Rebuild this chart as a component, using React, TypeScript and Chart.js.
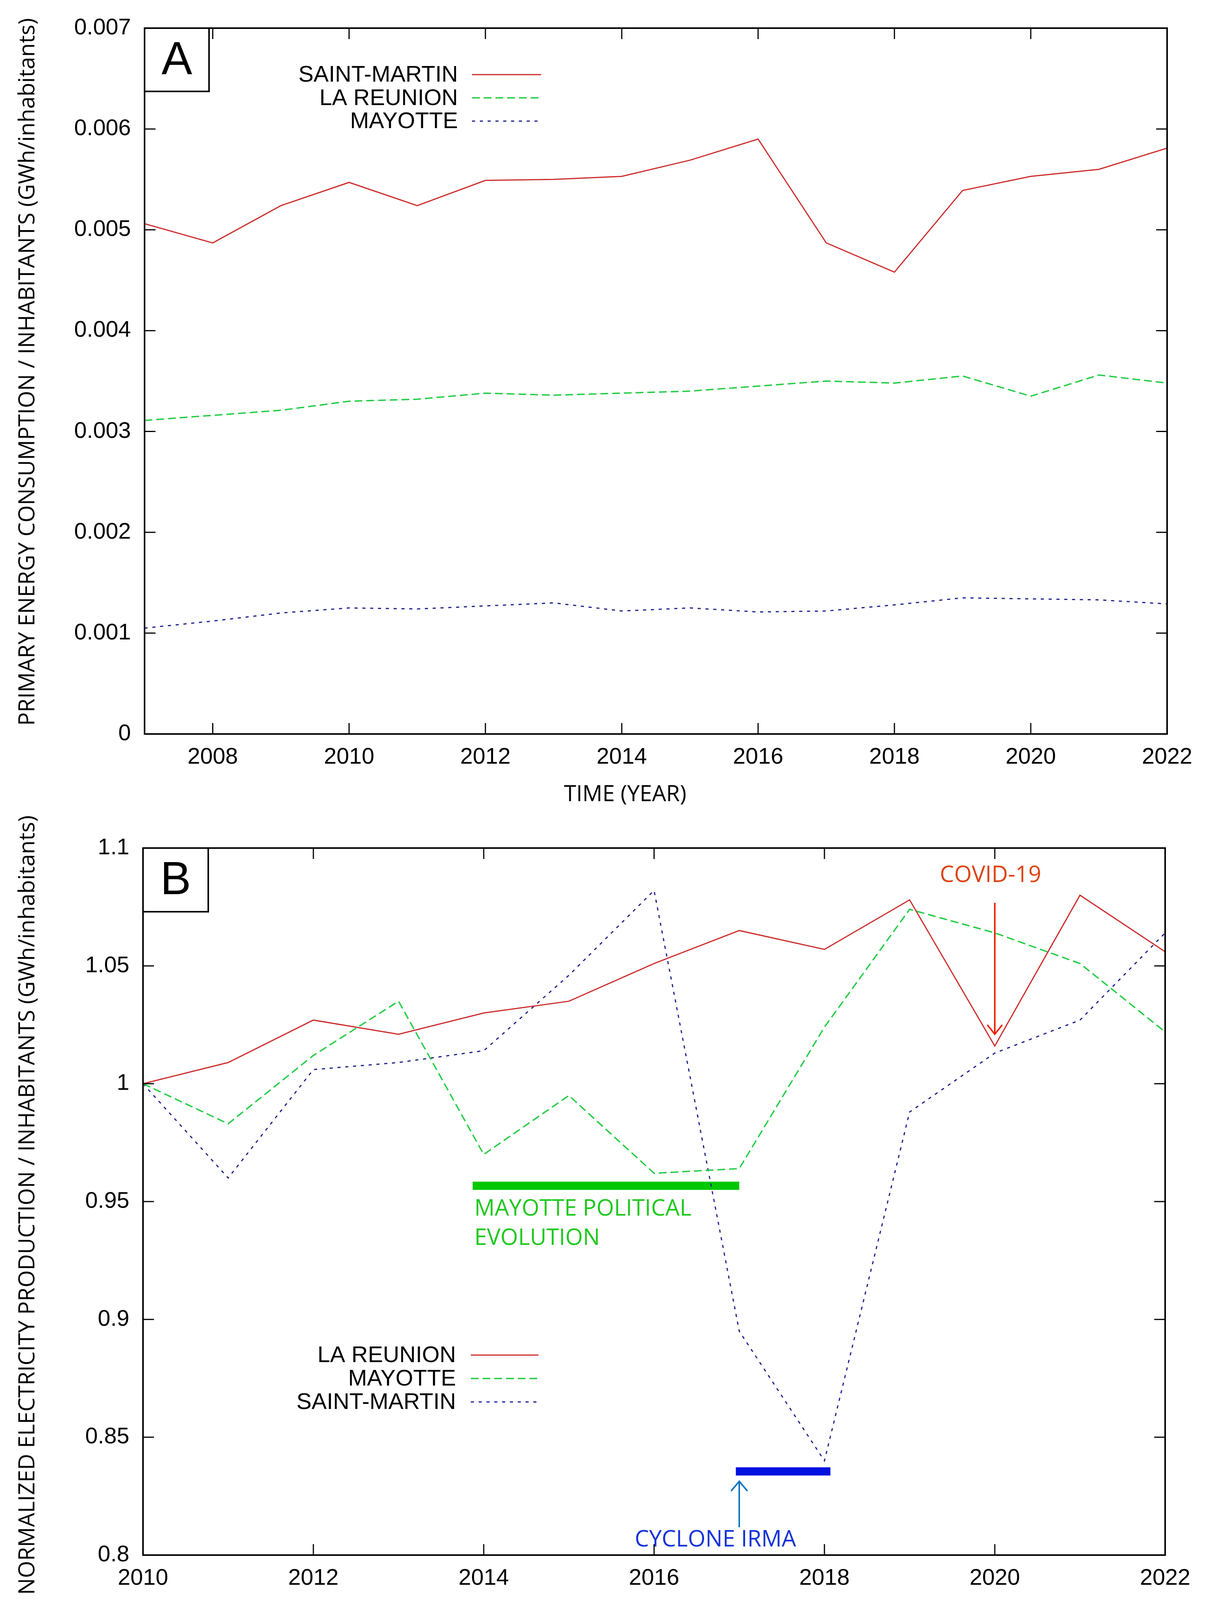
import React, { useEffect, useRef } from "react";
import { Chart, registerables } from "chart.js";

Chart.register(...registerables);

// ---------------- Panel A data ----------------
const yearsA = [2007, 2008, 2009, 2010, 2011, 2012, 2013, 2014, 2015, 2016, 2017, 2018, 2019, 2020, 2021, 2022];
const saintMartinA = [0.00506, 0.00487, 0.00524, 0.00547, 0.00524, 0.00549, 0.0055, 0.00553, 0.00569, 0.0059, 0.00487, 0.00458, 0.00539, 0.00553, 0.0056, 0.00581];
const laReunionA = [0.00311, 0.00316, 0.00321, 0.0033, 0.00332, 0.00338, 0.00336, 0.00338, 0.0034, 0.00345, 0.0035, 0.00348, 0.00355, 0.00335, 0.00356, 0.00348];
const mayotteA = [0.00105, 0.00112, 0.0012, 0.00125, 0.00124, 0.00127, 0.0013, 0.00122, 0.00125, 0.00121, 0.00122, 0.00128, 0.00135, 0.00134, 0.00133, 0.00129];
const xTicksA = [2008, 2010, 2012, 2014, 2016, 2018, 2020, 2022];
const yTicksA = [0, 0.001, 0.002, 0.003, 0.004, 0.005, 0.006, 0.007];
const yTickLabelsA = ["0", "0.001", "0.002", "0.003", "0.004", "0.005", "0.006", "0.007"];

// ---------------- Panel B data ----------------
const yearsB = [2010, 2011, 2012, 2013, 2014, 2015, 2016, 2017, 2018, 2019, 2020, 2021, 2022];
const laReunionB = [1.0, 1.009, 1.027, 1.021, 1.03, 1.035, 1.051, 1.065, 1.057, 1.078, 1.016, 1.08, 1.056];
const mayotteB = [1.0, 0.983, 1.012, 1.035, 0.97, 0.995, 0.962, 0.964, 1.024, 1.074, 1.064, 1.051, 1.022];
const saintMartinB = [1.0, 0.96, 1.006, 1.009, 1.014, 1.046, 1.082, 0.895, 0.84, 0.988, 1.013, 1.027, 1.064];
const xTicksB = [2010, 2012, 2014, 2016, 2018, 2020, 2022];
const yTicksB = [0.8, 0.85, 0.9, 0.95, 1.0, 1.05, 1.1];
const yTickLabelsB = ["0.8", "0.85", "0.9", "0.95", "1", "1.05", "1.1"];

// ---------------- styles ----------------
const RED = "#cc2a2a";
const GREEN = "#22cc44";
const NAVY = "#1c1c8a";
const FONT_SANS = "'Liberation Sans', Arial, Helvetica, sans-serif";
const FONT_TITLE = "'Open Sans', 'Noto Sans', sans-serif";

const W = 3084;
const PAGE_H = 4234;
const TOP_A = 0;
const H_A = 2117;
const TOP_B = 1900;
const H_B = PAGE_H - TOP_B;

// ---------------- plugins ----------------
const framePlugin = {
  id: "frame",
  afterDatasetsDraw(chart: any, _a: any, o: any) {
    const { ctx, chartArea: a, scales } = chart;
    const L = o.tickLen;
    ctx.save();
    ctx.strokeStyle = "#000";
    ctx.lineWidth = o.tickWidth;
    ctx.beginPath();
    for (const t of scales.x.ticks) {
      const px = scales.x.getPixelForValue(t.value);
      ctx.moveTo(px, a.bottom);
      ctx.lineTo(px, a.bottom - L);
      ctx.moveTo(px, a.top);
      ctx.lineTo(px, a.top + L);
    }
    for (const t of scales.y.ticks) {
      const py = scales.y.getPixelForValue(t.value);
      ctx.moveTo(a.left, py);
      ctx.lineTo(a.left + L, py);
      ctx.moveTo(a.right, py);
      ctx.lineTo(a.right - L, py);
    }
    ctx.stroke();
    ctx.lineWidth = o.borderWidth;
    ctx.strokeRect(a.left, a.top, a.right - a.left, a.bottom - a.top);
    ctx.restore();
  },
};

const panelLabelPlugin = {
  id: "panelLabel",
  afterDraw(chart: any, _a: any, o: any) {
    const { ctx, chartArea: a } = chart;
    ctx.save();
    ctx.fillStyle = "#fff";
    ctx.fillRect(a.left, a.top, o.w, o.h);
    ctx.strokeStyle = "#000";
    ctx.lineWidth = 4;
    ctx.strokeRect(a.left, a.top, o.w, o.h);
    ctx.fillStyle = "#000";
    ctx.font = `${o.size}px ${FONT_SANS}`;
    ctx.textAlign = "center";
    ctx.textBaseline = "middle";
    ctx.fillText(o.text, a.left + o.w / 2, a.top + o.h / 2 + 4);
    ctx.restore();
  },
};

const legendPlugin = {
  id: "sideLegend",
  afterDraw(chart: any, _a: any, o: any) {
    const { ctx, chartArea: a } = chart;
    ctx.save();
    ctx.font = `${o.size}px ${FONT_SANS}`;
    ctx.textAlign = "right";
    ctx.textBaseline = "middle";
    chart.data.datasets.forEach((ds: any, i: number) => {
      const y = a.top + o.rowTop + i * o.rowGap;
      ctx.fillStyle = "#000";
      ctx.fillText(ds.label, a.left + o.textRight, y + 2);
      ctx.strokeStyle = ds.borderColor;
      ctx.lineWidth = ds.borderWidth;
      ctx.setLineDash(ds.borderDash || []);
      ctx.beginPath();
      ctx.moveTo(a.left + o.sample0, y);
      ctx.lineTo(a.left + o.sample1, y);
      ctx.stroke();
      ctx.setLineDash([]);
    });
    ctx.restore();
  },
};

const titlesPlugin = {
  id: "titles",
  afterDraw(chart: any, _a: any, o: any) {
    const { ctx } = chart;
    ctx.save();
    ctx.fillStyle = "#000";
    ctx.font = `${o.size}px ${FONT_TITLE}`;
    ctx.textAlign = "center";
    ctx.textBaseline = "middle";
    ctx.fillText(o.x.text, o.x.cx, o.x.cy);
    ctx.translate(o.y.cx, o.y.cy);
    ctx.rotate(-Math.PI / 2);
    ctx.fillText(o.y.text, 0, 0);
    ctx.restore();
  },
};

const annotationPlugin = {
  id: "notes",
  beforeDatasetsDraw(chart: any, _a: any, o: any) {
    if (!o || !o.bars) return;
    const { ctx, scales } = chart;
    ctx.save();
    for (const b of o.bars) {
      const x0 = scales.x.getPixelForValue(b.x0);
      const x1 = scales.x.getPixelForValue(b.x1);
      const y = scales.y.getPixelForValue(b.y);
      ctx.fillStyle = b.color;
      ctx.fillRect(x0, y - b.thick / 2, x1 - x0, b.thick);
    }
    ctx.restore();
  },
  afterDatasetsDraw(chart: any, _a: any, o: any) {
    if (!o || !o.arrows) return;
    const { ctx, scales } = chart;
    ctx.save();
    for (const ar of o.arrows) {
      const x = scales.x.getPixelForValue(ar.x);
      const y0 = scales.y.getPixelForValue(ar.from);
      const y1 = scales.y.getPixelForValue(ar.to);
      const dir = y1 > y0 ? 1 : -1;
      ctx.strokeStyle = ar.color;
      ctx.lineWidth = 4;
      ctx.beginPath();
      ctx.moveTo(x, y0);
      ctx.lineTo(x, y1);
      ctx.moveTo(x - ar.headW, y1 - dir * ar.headH);
      ctx.lineTo(x, y1);
      ctx.lineTo(x + ar.headW, y1 - dir * ar.headH);
      ctx.stroke();
    }
    for (const t of o.texts) {
      const x = scales.x.getPixelForValue(t.x);
      const y = scales.y.getPixelForValue(t.y);
      ctx.fillStyle = t.color;
      ctx.font = `${t.size}px ${FONT_TITLE}`;
      ctx.textAlign = t.align;
      ctx.textBaseline = "alphabetic";
      t.lines.forEach((ln: string, i: number) => ctx.fillText(ln, x, y + i * t.lineGap));
    }
    ctx.restore();
  },
};

// ---------------- config builder ----------------
type Series = { label: string; values: number[]; color: string; width: number; dash: number[] };

function buildConfig(p: any) {
  return {
    type: "line",
    data: {
      datasets: p.series.map((s: Series) => ({
        label: s.label,
        data: p.years.map((yr: number, i: number) => ({ x: yr, y: s.values[i] })),
        borderColor: s.color,
        borderWidth: s.width,
        borderDash: s.dash,
        pointRadius: 0,
        tension: 0,
        fill: false,
      })),
    },
    options: {
      animation: false,
      responsive: false,
      maintainAspectRatio: false,
      devicePixelRatio: 1,
      layout: { padding: p.padding },
      plugins: {
        legend: { display: false },
        tooltip: { enabled: false },
        frame: { tickLen: 28, tickWidth: 3, borderWidth: 4 },
        panelLabel: p.label,
        sideLegend: p.legend,
        titles: p.titles,
        notes: p.notes || {},
      },
      scales: {
        x: {
          type: "linear",
          min: p.xMin,
          max: p.xMax,
          grid: { display: false, drawTicks: false, tickLength: 0 },
          border: { display: false },
          ticks: {
            autoSkip: false,
            maxRotation: 0,
            padding: 25,
            color: "#000",
            font: { family: FONT_SANS, size: 58 },
            callback: (v: number) => String(v),
          },
          afterBuildTicks: (s: any) => {
            s.ticks = p.xTicks.map((v: number) => ({ value: v }));
          },
          afterFit: (s: any) => {
            s.height = p.xAxisHeight;
          },
        },
        y: {
          type: "linear",
          min: p.yMin,
          max: p.yMax,
          grid: { display: false, drawTicks: false, tickLength: 0 },
          border: { display: false },
          ticks: {
            autoSkip: false,
            padding: 35,
            color: "#000",
            font: { family: FONT_SANS, size: 58 },
            callback: (_v: number, i: number) => p.yTickLabels[i],
          },
          afterBuildTicks: (s: any) => {
            s.ticks = p.yTicks.map((v: number) => ({ value: v }));
          },
          afterFit: (s: any) => {
            s.width = p.yAxisWidth;
          },
        },
      },
    },
    plugins: [annotationPlugin, framePlugin, panelLabelPlugin, legendPlugin, titlesPlugin],
  };
}

const panelA = {
  top: TOP_A,
  height: H_A,
  years: yearsA,
  series: [
    { label: "SAINT-MARTIN", values: saintMartinA, color: RED, width: 3, dash: [] },
    { label: "LA REUNION", values: laReunionA, color: GREEN, width: 3.5, dash: [20, 10] },
    { label: "MAYOTTE", values: mayotteA, color: NAVY, width: 3, dash: [8, 12] },
  ],
  xMin: 2007,
  xMax: 2022,
  xTicks: xTicksA,
  yMin: 0,
  yMax: 0.007,
  yTicks: yTicksA,
  yTickLabels: yTickLabelsA,
  padding: { left: 0, right: W - 2987, top: 72 - TOP_A, bottom: 0 },
  yAxisWidth: 370,
  xAxisHeight: H_A - (1879 - TOP_A),
  label: { text: "A", w: 165, h: 162, size: 118 },
  legend: { size: 58, textRight: 802, sample0: 838, sample1: 1015, rowTop: 119, rowGap: 59.5 },
  titles: {
    size: 57,
    x: { text: "TIME (YEAR)", cx: 1600, cy: 2035 - TOP_A },
    y: { text: "PRIMARY ENERGY CONSUMPTION / INHABITANTS (GWh/inhabitants)", cx: 72, cy: 952 - TOP_A },
  },
};

const panelB = {
  top: TOP_B,
  height: H_B,
  years: yearsB,
  series: [
    { label: "LA REUNION", values: laReunionB, color: RED, width: 3, dash: [] },
    { label: "MAYOTTE", values: mayotteB, color: GREEN, width: 3.5, dash: [20, 10] },
    { label: "SAINT-MARTIN", values: saintMartinB, color: NAVY, width: 3, dash: [8, 12] },
  ],
  xMin: 2010,
  xMax: 2022,
  xTicks: xTicksB,
  yMin: 0.8,
  yMax: 1.1,
  yTicks: yTicksB,
  yTickLabels: yTickLabelsB,
  padding: { left: 0, right: W - 2982, top: 2171 - TOP_B, bottom: 0 },
  yAxisWidth: 366,
  xAxisHeight: H_B - (3981 - TOP_B),
  label: { text: "B", w: 167, h: 163, size: 118 },
  legend: { size: 58, textRight: 801, sample0: 839, sample1: 1012, rowTop: 1298, rowGap: 60 },
  titles: {
    size: 57,
    x: { text: "TIME (YEAR)", cx: 1632, cy: 4160 - TOP_B },
    y: { text: "NORMALIZED ELECTRICITY PRODUCTION / INHABITANTS (GWh/inhabitants)", cx: 72, cy: 3085 - TOP_B },
  },
  notes: {
    bars: [
      { x0: 2013.87, x1: 2017.0, y: 0.9567, thick: 21, color: "#00c800" },
      { x0: 2016.96, x1: 2018.07, y: 0.8355, thick: 21, color: "#0010e0" },
    ],
    arrows: [
      { x: 2017.0, from: 0.8118, to: 0.8313, color: "#0a78c0", headW: 21, headH: 25 },
      { x: 2020.0, from: 1.0768, to: 1.021, color: "#ee2200", headW: 19, headH: 24 },
    ],
    texts: [
      { x: 2013.89, y: 0.944, lines: ["MAYOTTE POLITICAL", "EVOLUTION"], lineGap: 75, align: "left", color: "#1ec81e", size: 58 },
      { x: 2016.72, y: 0.8036, lines: ["CYCLONE IRMA"], lineGap: 0, align: "center", color: "#1433d6", size: 58 },
      { x: 2019.95, y: 1.0855, lines: ["COVID-19"], lineGap: 0, align: "center", color: "#dd4411", size: 58 },
    ],
  },
};

function Panel({ spec }: { spec: any }) {
  const ref = useRef<HTMLCanvasElement | null>(null);
  useEffect(() => {
    if (!ref.current) return;
    const chart = new Chart(ref.current, buildConfig(spec) as any);
    return () => chart.destroy();
  }, [spec]);
  return (
    <canvas
      ref={ref}
      width={W}
      height={spec.height}
      style={{ position: "absolute", left: 0, top: spec.top, width: W, height: spec.height, display: "block" }}
    />
  );
}

export default function App() {
  return (
    <div style={{ position: "absolute", left: 0, top: 0, width: W, height: PAGE_H, background: "#fff", overflow: "hidden" }}>
      <Panel spec={panelA} />
      <Panel spec={panelB} />
    </div>
  );
}
